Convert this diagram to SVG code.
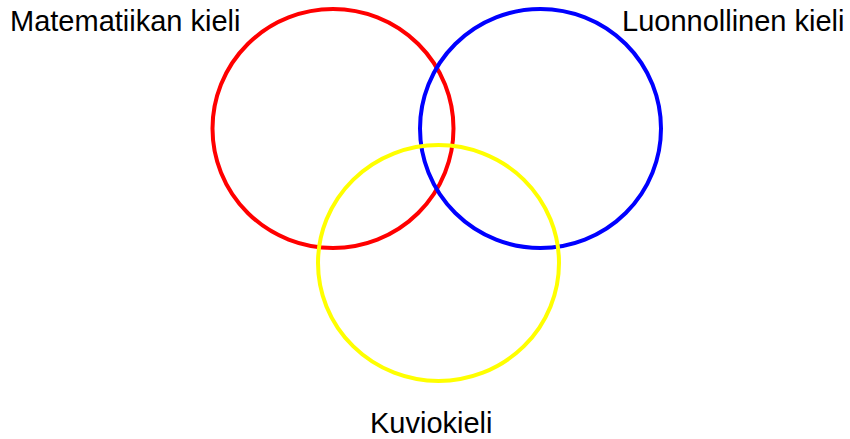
<svg xmlns="http://www.w3.org/2000/svg" width="850" height="439" viewBox="0 0 850 439">
<style>
.c{fill:none;stroke-width:4}
.t{font-family:"Liberation Sans",Arial,sans-serif;font-size:29px;fill:#000}
</style>
<rect width="850" height="439" fill="#fff"/>
<g id="red"><ellipse class="c" cx="333" cy="128.5" rx="120.5" ry="119.5" stroke="#ff0000"/></g>
<g id="blue"><ellipse class="c" cx="540.5" cy="128.5" rx="120.5" ry="119.5" stroke="#0000ff"/></g>
<g id="yellow"><ellipse class="c" cx="438.5" cy="263" rx="120.5" ry="118" stroke="#ffff00"/></g>
<g id="label-math"><text class="t" x="10" y="31">Matematiikan kieli</text></g>
<g id="label-natural"><text class="t" x="622" y="31">Luonnollinen kieli</text></g>
<g id="label-pattern"><text class="t" x="370" y="433">Kuviokieli</text></g>
<g id="connectors"></g>
</svg>
